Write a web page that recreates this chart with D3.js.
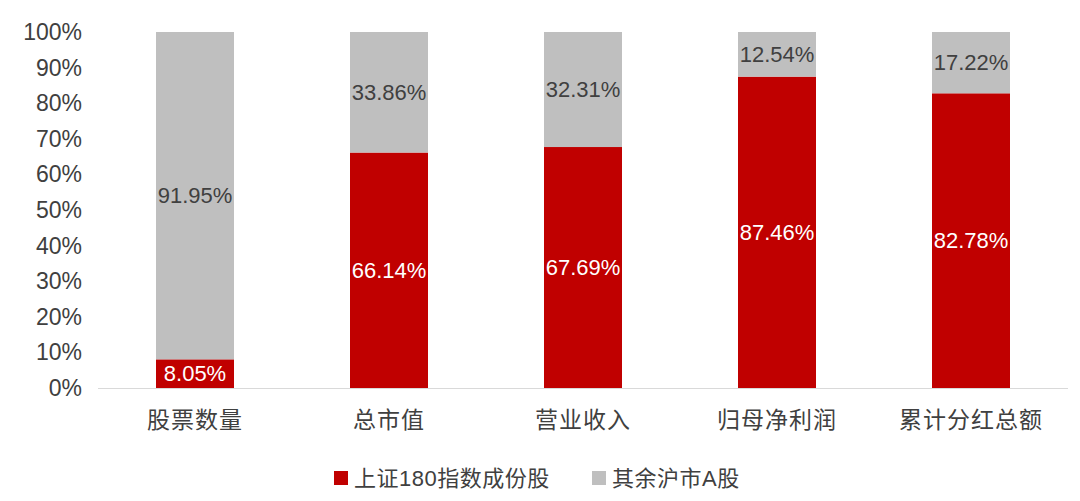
<!DOCTYPE html><html><head><meta charset="utf-8"><script src="https://cdn.jsdelivr.net/npm/d3@7"></script>
<style>body{margin:0;background:#fff}text{font-family:"Liberation Sans","Noto Sans CJK SC",sans-serif}</style></head><body><svg id="c" width="1080" height="501"></svg><script>
const categories=["股票数量","总市值","营业收入","归母净利润","累计分红总额"];
const seriesA=[8.05,66.14,67.69,87.46,82.78];
const seriesB=[91.95,33.86,32.31,12.54,17.22];
const seriesNames=["上证180指数成份股","其余沪市A股"];
const yTicks=[0,10,20,30,40,50,60,70,80,90,100];
const colors=["#C00000","#BFBFBF"];
const svg=d3.select("#c");
const x=d3.scaleBand().domain(categories).range([98,1068]);
const y=d3.scaleLinear().domain([0,100]).range([388,32]);
const bw=78;
svg.append("g").selectAll("text").data(yTicks).join("text").attr("x",82).attr("y",d=>y(d)).attr("dy","0.35em").attr("text-anchor","end").attr("font-size",23).attr("fill","#404040").text(d=>d+"%");
svg.append("line").attr("x1",98).attr("x2",1068).attr("y1",388.5).attr("y2",388.5).attr("stroke","#d9d9d9");
categories.forEach((c,i)=>{
 const cx=x(c)+x.bandwidth()/2,a=seriesA[i],b=seriesB[i];
 svg.append("rect").attr("x",cx-bw/2).attr("width",bw).attr("y",y(a)).attr("height",y(0)-y(a)).attr("fill",colors[0]);
 svg.append("rect").attr("x",cx-bw/2).attr("width",bw).attr("y",y(a+b)).attr("height",y(a)-y(a+b)).attr("fill",colors[1]);
 svg.append("text").attr("x",cx).attr("y",y(a/2)).attr("dy","0.35em").attr("text-anchor","middle").attr("font-size",22).attr("fill","#fff").text(a.toFixed(2)+"%");
 svg.append("text").attr("x",cx).attr("y",y(a+b/2)).attr("dy","0.35em").attr("text-anchor","middle").attr("font-size",22).attr("fill","#404040").text(b.toFixed(2)+"%");
 svg.append("text").attr("x",cx).attr("y",420).attr("dy","0.35em").attr("text-anchor","middle").attr("font-size",23).attr("letter-spacing",1).attr("fill","#404040").text(c);
});
const lg=[[334,seriesNames[0]],[592,seriesNames[1]]];
lg.forEach(([lx,t],i)=>{
 svg.append("rect").attr("x",lx).attr("y",471).attr("width",14).attr("height",14).attr("fill",colors[i]);
 svg.append("text").attr("x",lx+20).attr("y",478).attr("dy","0.35em").attr("font-size",22).attr("letter-spacing",0.5).attr("fill","#404040").text(t);
});
</script></body></html>
